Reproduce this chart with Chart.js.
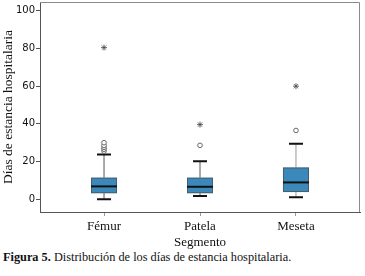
<!DOCTYPE html>
<html lang="es">
<head>
<meta charset="UTF-8" />
<title>Distribución de los días de estancia hospitalaria</title>
<script src="https://cdn.jsdelivr.net/npm/chart.js"></script>
<style>
  body { margin: 0; background: #fff; }
  #wrap { position: relative; width: 365px; height: 276px; overflow: hidden; }
  #grafica { position: absolute; left: 0; top: -5px; }
  #caption { position: absolute; left: 3px; top: 250px; font-family: "Liberation Serif", serif; font-size: 12.3px; color: #111; white-space: nowrap; }
</style>
</head>
<body>
<div id="wrap">
  <canvas id="grafica" width="365" height="255"></canvas>
  <div id="caption"><b>Figura 5.</b> Distribución de los días de estancia hospitalaria.</div>
</div>
<script>
// Datos
const segmentos = ["Fémur", "Patela", "Meseta"];
const minimos = [0, 1.7, 1.0];
const q1 = [3.2, 3.2, 3.8];
const medianas = [6.8, 6.6, 8.9];
const q3 = [11.4, 11.4, 16.8];
const maximos = [23.7, 20.2, 29.5];
// Atípicos (círculos) y extremos (asteriscos)
const atipicos = [[25.5, 26.5, 27.5, 28.5, 30], [28.6], [36.5]];
const extremos = [[80.5], [39.6], [60]];
const yTicks = [0, 20, 40, 60, 80, 100];

const puntosAtipicos = [];
atipicos.forEach((arr, i) => arr.forEach(v => puntosAtipicos.push({ x: i + 1, y: v })));
const puntosExtremos = [];
extremos.forEach((arr, i) => arr.forEach(v => puntosExtremos.push({ x: i + 1, y: v })));

// Dibuja las cajas con las escalas del gráfico
const cajas = {
  id: "cajas",
  beforeDatasetsDraw(chart) {
    const { ctx, scales: { x, y } } = chart;
    ctx.save();
    segmentos.forEach((s, i) => {
      const cx = x.getPixelForValue(i + 1);
      const half = 13, cap = 7;
      const yMin = y.getPixelForValue(minimos[i]);
      const yQ1 = y.getPixelForValue(q1[i]);
      const yMed = y.getPixelForValue(medianas[i]);
      const yQ3 = y.getPixelForValue(q3[i]);
      const yMax = y.getPixelForValue(maximos[i]);
      // bigotes
      ctx.strokeStyle = i === 2 ? "#9a9a9a" : "#555";
      ctx.lineWidth = 1;
      ctx.beginPath();
      ctx.moveTo(cx, yQ3); ctx.lineTo(cx, yMax);
      ctx.moveTo(cx, yQ1); ctx.lineTo(cx, yMin);
      ctx.stroke();
      // topes
      ctx.strokeStyle = "#111";
      ctx.lineWidth = 2;
      ctx.beginPath();
      ctx.moveTo(cx - cap, yMax); ctx.lineTo(cx + cap, yMax);
      ctx.moveTo(cx - cap, yMin); ctx.lineTo(cx + cap, yMin);
      ctx.stroke();
      // caja
      ctx.fillStyle = "#3b89bb";
      ctx.fillRect(cx - half, yQ3, half * 2, yQ1 - yQ3);
      ctx.strokeStyle = "#4d5d68";
      ctx.lineWidth = 1;
      ctx.strokeRect(cx - half + 0.5, yQ3 + 0.5, half * 2 - 1, yQ1 - yQ3 - 1);
      // mediana
      ctx.strokeStyle = "#111";
      ctx.lineWidth = 2;
      ctx.beginPath();
      ctx.moveTo(cx - half, yMed); ctx.lineTo(cx + half, yMed);
      ctx.stroke();
    });
    ctx.restore();
  }
};

// Marco del área del gráfico
const marco = {
  id: "marco",
  afterDraw(chart) {
    const { ctx, chartArea: a } = chart;
    ctx.save();
    ctx.strokeStyle = "#8a8a8a";
    ctx.lineWidth = 1;
    ctx.beginPath();
    ctx.moveTo(a.left, a.top + 0.5); ctx.lineTo(a.right - 0.5, a.top + 0.5); ctx.lineTo(a.right - 0.5, a.bottom);
    ctx.stroke();
    ctx.restore();
  }
};

new Chart(document.getElementById("grafica"), {
  type: "scatter",
  data: {
    datasets: [
      {
        label: "Atípicos",
        data: puntosAtipicos,
        pointStyle: "circle",
        pointRadius: 2.3,
        borderColor: "#666",
        backgroundColor: "#fff",
        borderWidth: 1
      },
      {
        label: "Extremos",
        data: puntosExtremos,
        pointStyle: "star",
        pointRadius: 3,
        borderColor: "#444",
        borderWidth: 0.8
      }
    ]
  },
  plugins: [cajas, marco],
  options: {
    responsive: false,
    animation: false,
    layout: { padding: { top: 0, right: 1, left: 0, bottom: 0 } },
    plugins: { legend: { display: false }, tooltip: { enabled: false } },
    scales: {
      x: {
        type: "linear",
        min: 0.333,
        max: 3.667,
        afterBuildTicks: axis => { axis.ticks = segmentos.map((s, i) => ({ value: i + 1 })); },
        ticks: {
          callback: (v) => segmentos[v - 1],
          color: "#111",
          font: { family: "Liberation Serif", size: 13 },
          padding: 3,
          autoSkip: false,
          maxRotation: 0
        },
        grid: { drawOnChartArea: false, tickLength: 4, color: "#999" },
        border: { color: "#555", width: 1 },
        title: {
          display: true,
          text: "Segmento",
          color: "#111",
          font: { family: "Liberation Serif", size: 13 },
          padding: { top: 0, bottom: 0 }
        },
        afterFit: axis => { axis.height = 38; }
      },
      y: {
        min: -6.8,
        max: 104.7,
        afterBuildTicks: axis => { axis.ticks = yTicks.map(v => ({ value: v })); },
        ticks: {
          color: "#111",
          font: { family: "DejaVu Sans", size: 10 },
          padding: 1
        },
        grid: { drawOnChartArea: false, tickLength: 4, color: "#555" },
        border: { color: "#555", width: 1 },
        title: {
          display: true,
          text: "Días de estancia hospitalaria",
          color: "#111",
          font: { family: "Liberation Serif", size: 13.5 },
          padding: { top: 0, bottom: 0 }
        },
        afterFit: axis => { axis.width = 40; }
      }
    }
  }
});
</script>
</body>
</html>
